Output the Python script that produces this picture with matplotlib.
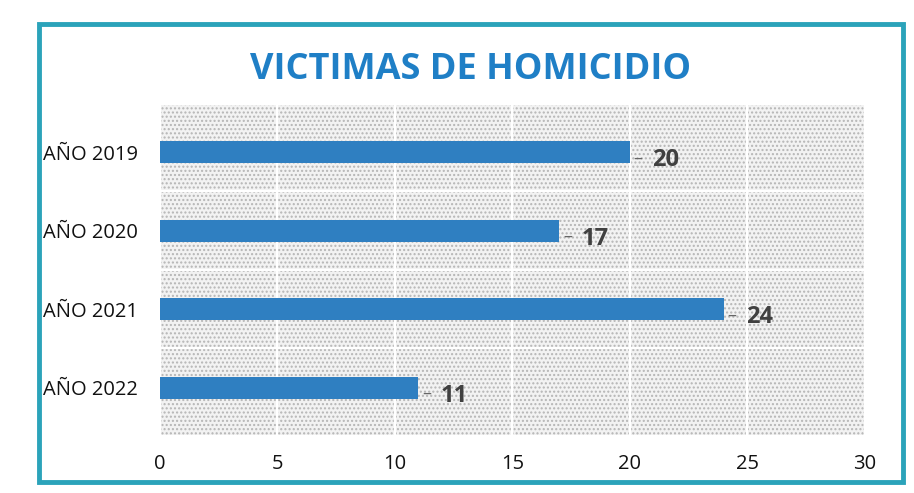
import matplotlib.pyplot as plt
from matplotlib.patches import Rectangle

years = ['AÑO 2019', 'AÑO 2020', 'AÑO 2021', 'AÑO 2022']
victims = [20, 17, 24, 11]
xticks = [0, 5, 10, 15, 20, 25, 30]

plt.rcParams['font.family'] = ['Open Sans', 'DejaVu Sans']

fig = plt.figure(figsize=(9.14, 4.93), dpi=100)
fig.patch.set_facecolor('white')

# teal frame around the whole chart
fig.patches.append(Rectangle((0.043, 0.022), 0.945, 0.93, transform=fig.transFigure,
                             fill=False, edgecolor='#2ba3ba', linewidth=3.5))

fig.text(0.515, 0.858, 'VICTIMAS DE HOMICIDIO', ha='center', va='center',
         fontsize=26, fontweight='bold', color='#1f7fc6')

ax = fig.add_axes([0.175, 0.118, 0.771, 0.669])
ax.set_facecolor('white')
# stippled background like the scan
ax.add_patch(Rectangle((0, 0), 1, 1, transform=ax.transAxes, facecolor='#f2f2f2',
                       hatch='....', edgecolor='#b5b5b5', linewidth=0, zorder=0))

ypos = list(range(len(years)))
ax.barh(ypos, victims, height=0.28, color='#2f7fc1', zorder=3)
for y, v in zip(ypos, victims):
    ax.text(v + 0.15, y + 0.08, '–', ha='left', va='center', fontsize=13, color='#666666', zorder=4)
    ax.text(v + 0.95, y + 0.1, str(v), ha='left', va='center', fontsize=17,
            fontweight='bold', color='#404040', zorder=4)

ax.set_xlim(0, 30)
ax.set_ylim(3.6, -0.6)
ax.set_xticks(xticks)
ax.set_yticks(ypos)
ax.set_yticklabels(years)
ax.tick_params(length=0, labelsize=14.5, colors='#111111')
ax.tick_params(axis='x', pad=14)
ax.tick_params(axis='y', pad=16)
ax.grid(True, axis='x', color='white', linewidth=1.6, zorder=1)
for yb in [0.5, 1.5, 2.5]:
    ax.axhline(yb, color='white', linewidth=1.6, zorder=1)
for s in ax.spines.values():
    s.set_visible(False)

fig.savefig('out.png', dpi=100)
